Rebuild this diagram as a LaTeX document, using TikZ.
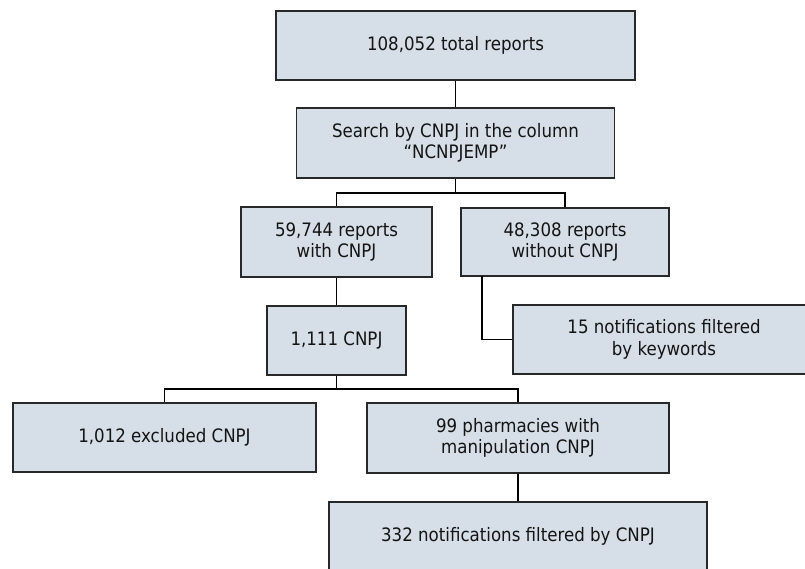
\documentclass[tikz,border=0pt]{standalone}
\usepackage{fontspec}
\setmainfont{DejaVu Sans Condensed}
\definecolor{boxfill}{RGB}{214,223,232}
\definecolor{boxline}{RGB}{40,40,40}
\definecolor{txt}{RGB}{20,20,20}
\begin{document}
\begin{tikzpicture}[x=1pt,y=-1pt,
  box/.style={draw=boxline,fill=boxfill,line width=1.5pt,align=center,inner sep=0pt,
    text=txt,font=\fontsize{18.5}{21.5}\selectfont},
  link/.style={draw=black,line width=1.2pt}]
\useasboundingbox (0,0) rectangle (805,568);
\clip (0,0) rectangle (805,568);
\node[box,minimum width=359pt,minimum height=69pt] (b1) at (455.5,45.5) {108,052 total reports};
\node[box,minimum width=318pt,minimum height=70pt] (b2) at (455.5,143) {Search by CNPJ in the column\\“NCNPJEMP”};
\node[box,minimum width=191pt,minimum height=70pt] (b3) at (336.5,242) {59,744 reports\\with CNPJ};
\node[box,minimum width=208pt,minimum height=68pt] (b4) at (565,242) {48,308 reports\\without CNPJ};
\node[box,minimum width=302pt,minimum height=69pt] (b5) at (664,339.5) {15 notifications filtered\\by keywords};
\node[box,minimum width=139pt,minimum height=69pt] (b6) at (336.5,340.5) {1,111 CNPJ};
\node[box,minimum width=303pt,minimum height=69pt] (b7) at (164.5,437.5) {1,012 excluded CNPJ};
\node[box,minimum width=302pt,minimum height=70pt] (b8) at (518,438) {99 pharmacies with\\manipulation CNPJ};
\node[box,minimum width=378pt,minimum height=69pt] (b9) at (518,536.5) {332 notifications filtered by CNPJ};
\coordinate (j1) at (455.5,193);
\coordinate (j2) at (336.5,389);
\coordinate (k4) at (482,276);
\draw[link] (b1.south) -- (b2.north);
\draw[link] (b2.south) -- (j1);
\draw[link] (b3.north) |- (j1) -| (b4.north);
\draw[link] (b3.south) -- (b6.north);
\draw[link] (k4) |- (b5.west);
\draw[link] (b6.south) -- (j2);
\draw[link] (b7.north) |- (j2) -| (b8.north);
\draw[link] (b8.south) -- (b9.north);
\end{tikzpicture}
\end{document}
